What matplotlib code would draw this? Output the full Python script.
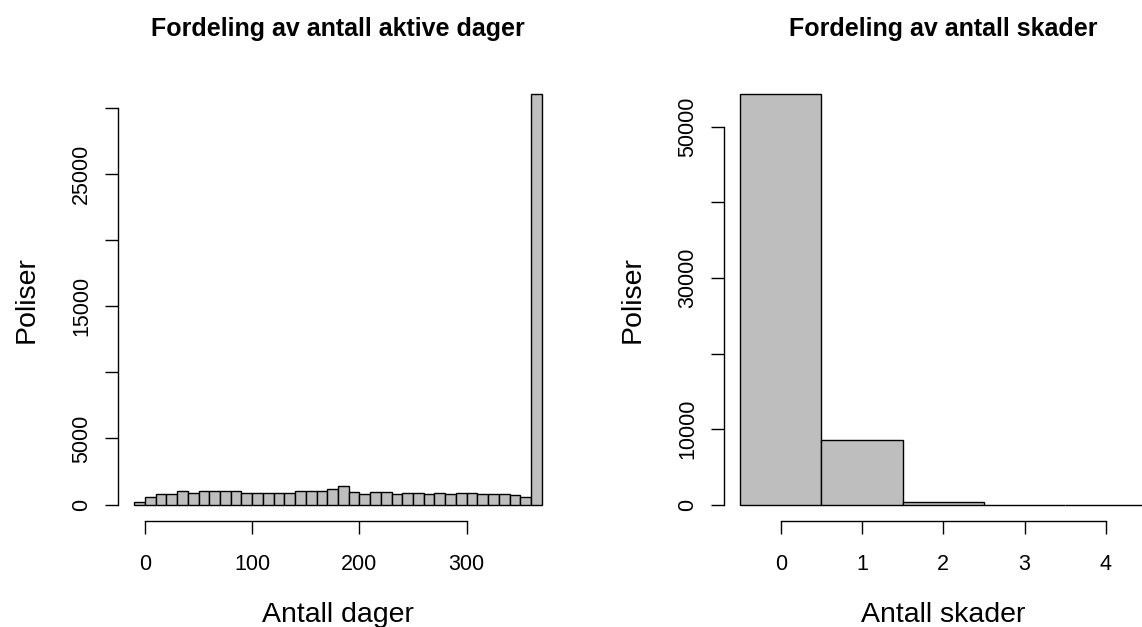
import matplotlib.pyplot as plt
import numpy as np

plt.rcParams['font.family'] = ['Liberation Sans', 'DejaVu Sans']

# Active days per policy, 10-day bins from -10 to 370
day_edges = np.arange(-10, 371, 10)
day_counts = [230, 550, 830, 830, 1030, 900, 1010, 1010, 1010, 1010,
              860, 880, 880, 880, 880, 1060, 1040, 1040, 1180, 1410,
              930, 800, 930, 930, 800, 900, 900, 800, 900, 800,
              900, 900, 800, 800, 800, 700, 550, 31000]
day_ticks = [0, 100, 200, 300]
day_yticks = [0, 5000, 10000, 15000, 20000, 25000, 30000]
day_ylabels = ['0', '5000', '', '15000', '', '25000', '']

# Number of claims per policy
claims = [0, 1, 2, 3, 4]
claim_counts = [54300, 8500, 300, 10, 2]
claim_yticks = [0, 10000, 20000, 30000, 40000, 50000]
claim_ylabels = ['0', '10000', '', '30000', '', '50000']

bar_fill = '#BEBEBE'
tick_fs = 15.5
label_fs = 20.5
title_fs = 18

fig = plt.figure(figsize=(11.42, 6.27), dpi=100)
ax1 = fig.add_axes([0.1033, 0.169, 0.3853, 0.7065])
ax2 = fig.add_axes([0.6338, 0.169, 0.3844, 0.7065])


def r_style(ax, xb, yb):
    # base-R look: axis lines only between first and last tick
    for s in ['top', 'right']:
        ax.spines[s].set_visible(False)
    ax.spines['left'].set_bounds(*yb)
    ax.spines['bottom'].set_bounds(*xb)
    for s in ['left', 'bottom']:
        ax.spines[s].set_linewidth(1.0)
        ax.spines[s].set_color('black')
    ax.tick_params(axis='both', direction='out', length=9.5, width=1.0,
                   labelsize=tick_fs, colors='black')
    ax.tick_params(axis='x', pad=14)
    ax.tick_params(axis='y', pad=9)
    for lab in ax.get_yticklabels():
        lab.set_rotation(90)
        lab.set_va('center')


# Left: active days
ax1.bar(day_edges[:-1], day_counts, width=10, align='edge',
        color=bar_fill, edgecolor='black', linewidth=1.0)
ax1.set_xlim(-25.2, 385.2)
ax1.set_ylim(-1240, 32240)
ax1.set_xticks(day_ticks)
ax1.set_yticks(day_yticks)
ax1.set_yticklabels(day_ylabels)
r_style(ax1, (0, 300), (0, 30000))
ax1.set_title('Fordeling av antall aktive dager', fontsize=title_fs,
              fontweight='bold', pad=30)
ax1.set_xlabel('Antall dager', fontsize=label_fs, labelpad=20)
ax1.set_ylabel('Poliser', fontsize=label_fs, labelpad=23)

# Right: claims
ax2.bar(claims, claim_counts, width=1.0, align='center',
        color=bar_fill, edgecolor='black', linewidth=1.0)
ax2.set_xlim(-0.7, 4.7)
ax2.set_ylim(-2172, 56472)
ax2.set_xticks(claims)
ax2.set_yticks(claim_yticks)
ax2.set_yticklabels(claim_ylabels)
r_style(ax2, (0, 4), (0, 50000))
ax2.set_title('Fordeling av antall skader', fontsize=title_fs,
              fontweight='bold', pad=30)
ax2.set_xlabel('Antall skader', fontsize=label_fs, labelpad=20)
ax2.set_ylabel('Poliser', fontsize=label_fs, labelpad=23)

fig.savefig('out.png', dpi=100)
